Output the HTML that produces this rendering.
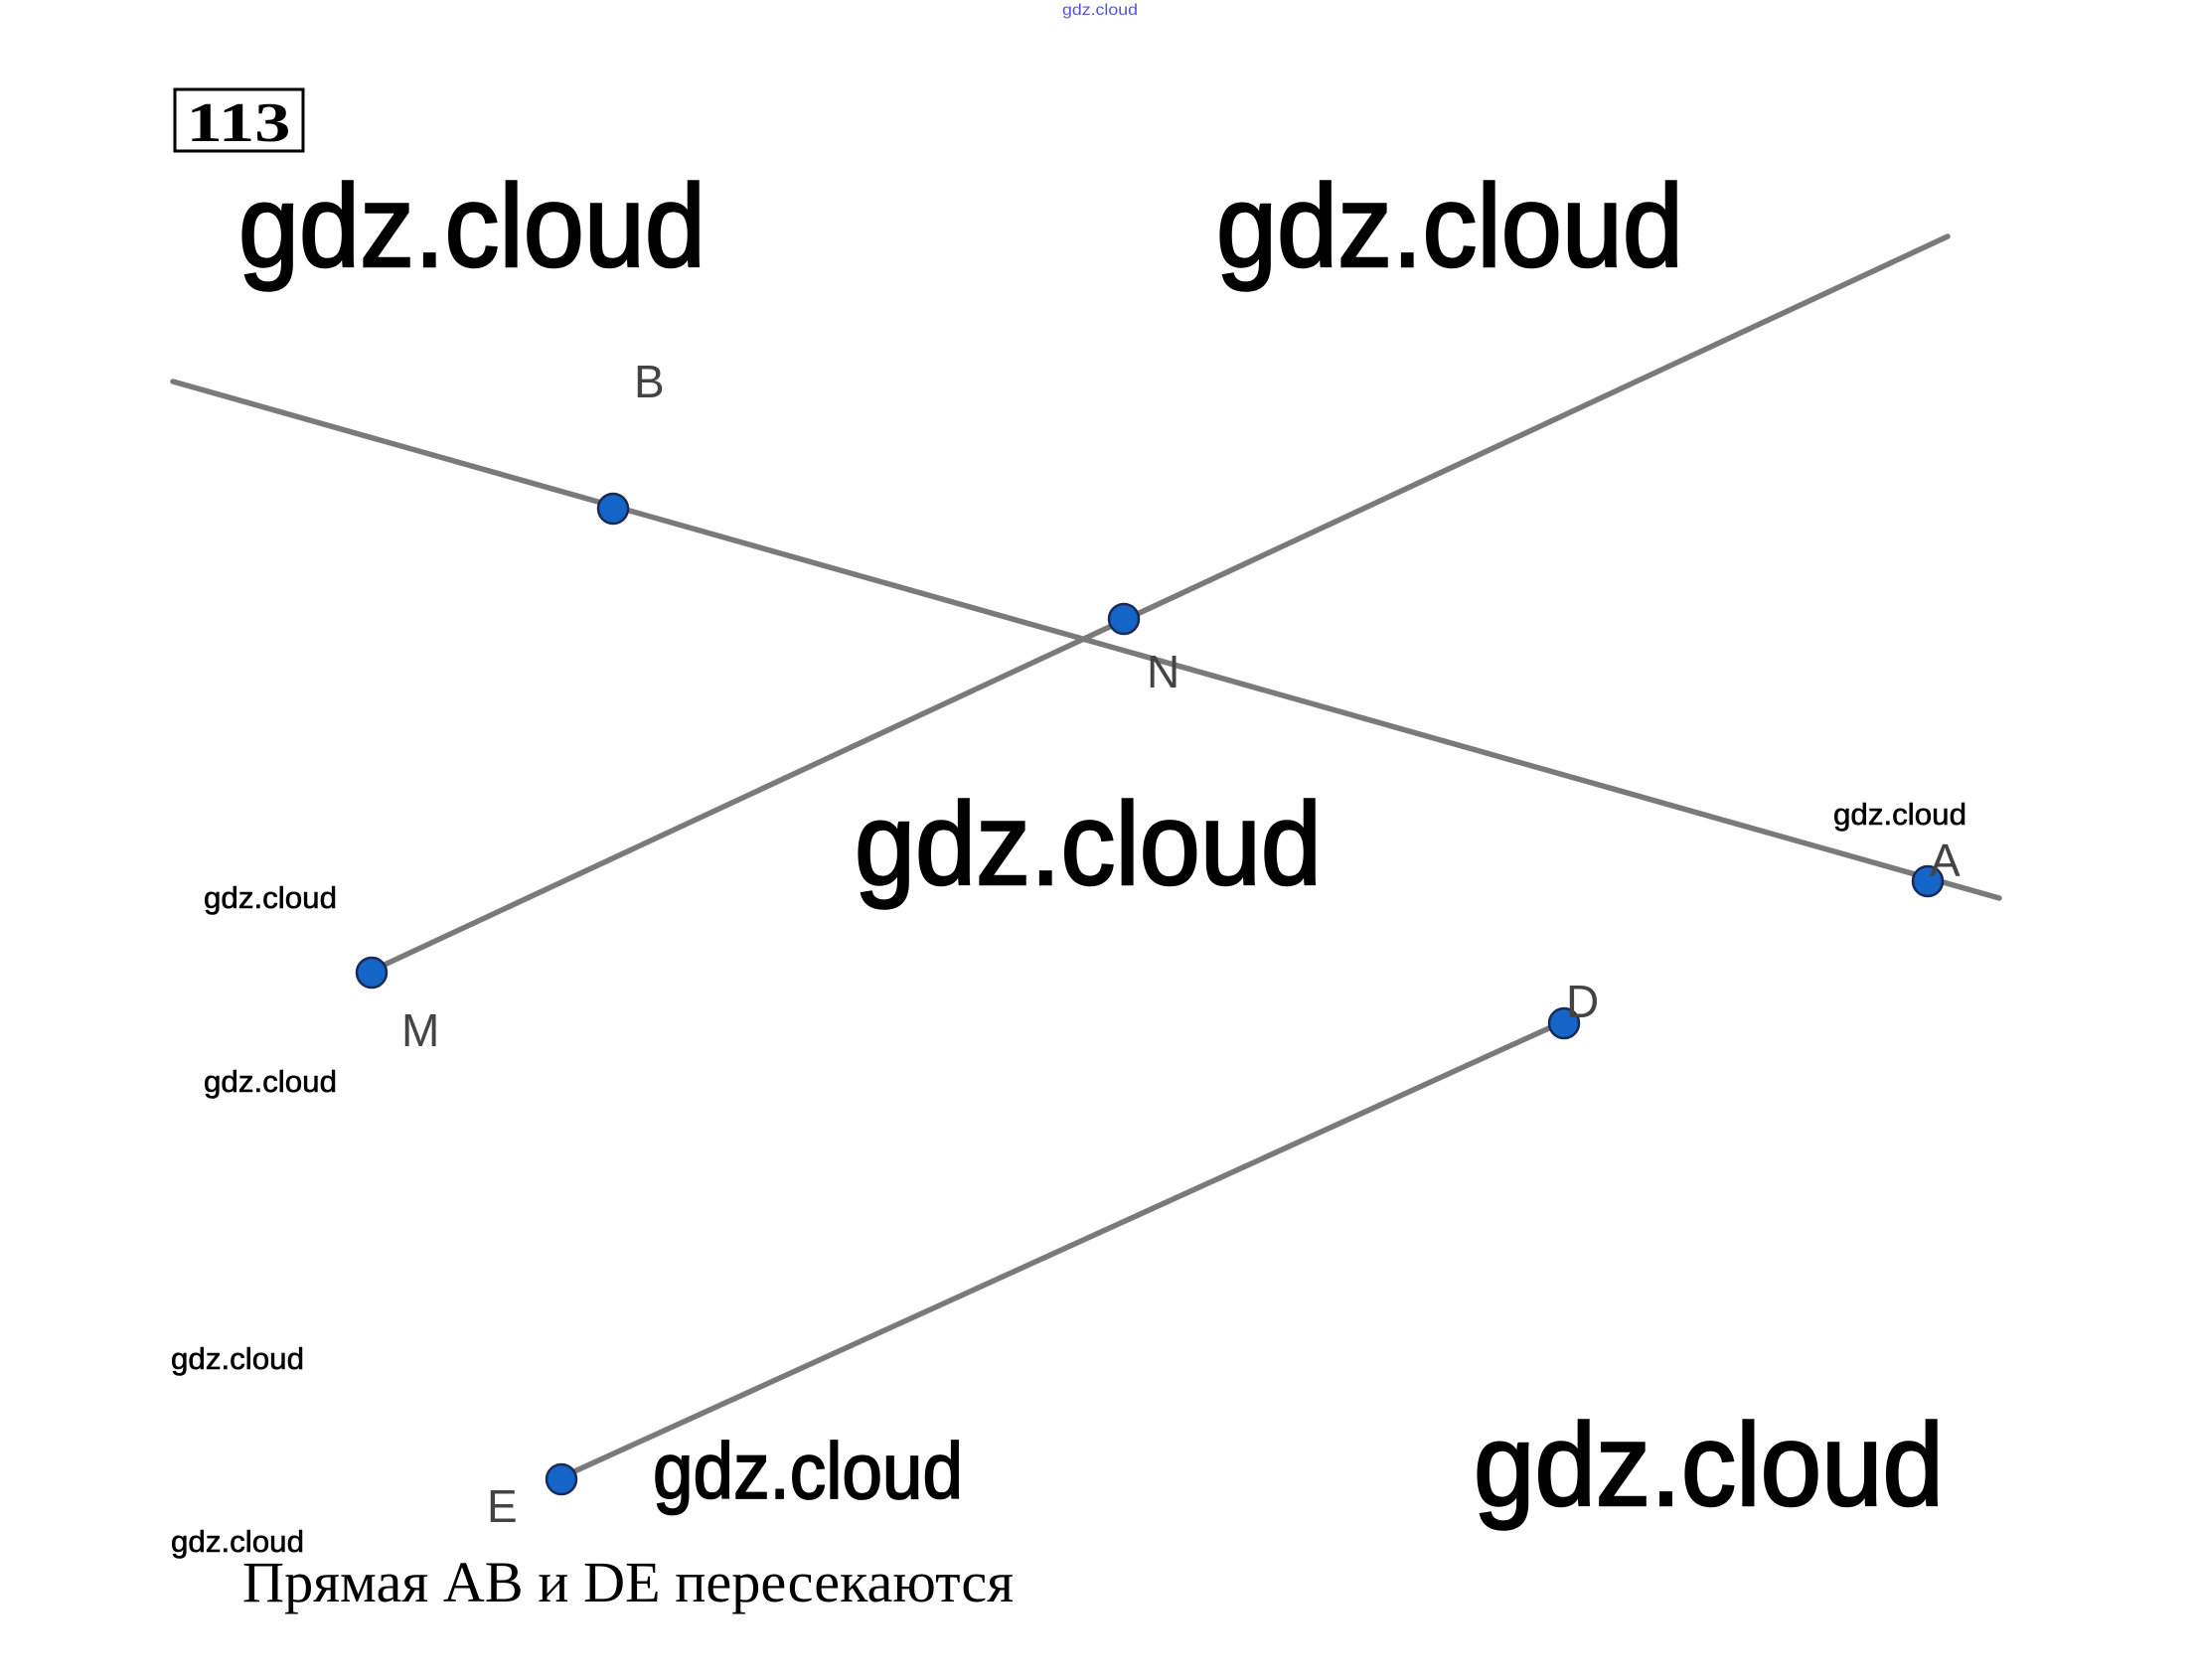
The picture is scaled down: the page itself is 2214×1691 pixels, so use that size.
<!DOCTYPE html>
<html><head><meta charset="utf-8"><style>
html,body{margin:0;padding:0;background:#fff;}
svg{display:block;}
</style></head><body>
<svg width="2214" height="1691" viewBox="0 0 2214 1691" xmlns="http://www.w3.org/2000/svg">
<rect width="2214" height="1691" fill="#fff"/>
<text x="1069" y="15" font-family="Liberation Sans, sans-serif" font-size="16" fill="#5555cc" textLength="76" lengthAdjust="spacingAndGlyphs">gdz.cloud</text>
<rect x="176" y="90" width="129" height="62" fill="none" stroke="#000" stroke-width="3"/>
<text x="240" y="142" text-anchor="middle" font-family="Liberation Serif, serif" font-weight="bold" font-size="56" textLength="105" lengthAdjust="spacingAndGlyphs">113</text>
<g font-family="Liberation Sans, sans-serif" fill="#000">
<g stroke="#000" stroke-width="2.5">
<text x="240" y="268" font-size="118" textLength="470" lengthAdjust="spacingAndGlyphs">gdz.cloud</text>
<text x="1224" y="268" font-size="118" textLength="470" lengthAdjust="spacingAndGlyphs">gdz.cloud</text>
<text x="860" y="890" font-size="118" textLength="470" lengthAdjust="spacingAndGlyphs">gdz.cloud</text>
<text x="1483" y="1515" font-size="118" textLength="473" lengthAdjust="spacingAndGlyphs">gdz.cloud</text>
<text x="657" y="1508" font-size="80" textLength="312" lengthAdjust="spacingAndGlyphs" stroke-width="1.8">gdz.cloud</text>
</g>
<g stroke="#000" stroke-width="0.6">
<text x="205" y="914" font-size="31" textLength="134" lengthAdjust="spacingAndGlyphs">gdz.cloud</text>
<text x="205" y="1099" font-size="31" textLength="134" lengthAdjust="spacingAndGlyphs">gdz.cloud</text>
<text x="172" y="1378" font-size="31" textLength="134" lengthAdjust="spacingAndGlyphs">gdz.cloud</text>
<text x="172" y="1562" font-size="31" textLength="134" lengthAdjust="spacingAndGlyphs">gdz.cloud</text>
<text x="1845" y="830" font-size="31" textLength="134" lengthAdjust="spacingAndGlyphs">gdz.cloud</text>
</g>
</g>
<g stroke="#7a7a7a" stroke-width="5.5" stroke-linecap="round">
<line x1="174" y1="384" x2="2012" y2="904"/>
<line x1="374" y1="977" x2="1960" y2="238"/>
<line x1="565" y1="1487" x2="1574" y2="1028"/>
</g>
<g fill="#1565c8" stroke="#1a2a55" stroke-width="2.5">
<circle cx="617" cy="512" r="15"/>
<circle cx="1131" cy="623" r="15"/>
<circle cx="1940" cy="887" r="15"/>
<circle cx="374" cy="979" r="15"/>
<circle cx="1574" cy="1030" r="15"/>
<circle cx="565" cy="1489" r="15"/>
</g>
<g font-family="Liberation Sans, sans-serif" font-size="46" fill="#444">
<text x="638" y="400">B</text>
<text x="1154" y="692">N</text>
<text x="1942" y="882">A</text>
<text x="404" y="1053">M</text>
<text x="1576" y="1024">D</text>
<text x="490" y="1532">E</text>
</g>
<text x="244" y="1612" font-family="Liberation Serif, serif" font-size="58" fill="#000" textLength="776" lengthAdjust="spacingAndGlyphs">Прямая AB и DE пересекаются</text>
</svg>
</body></html>
